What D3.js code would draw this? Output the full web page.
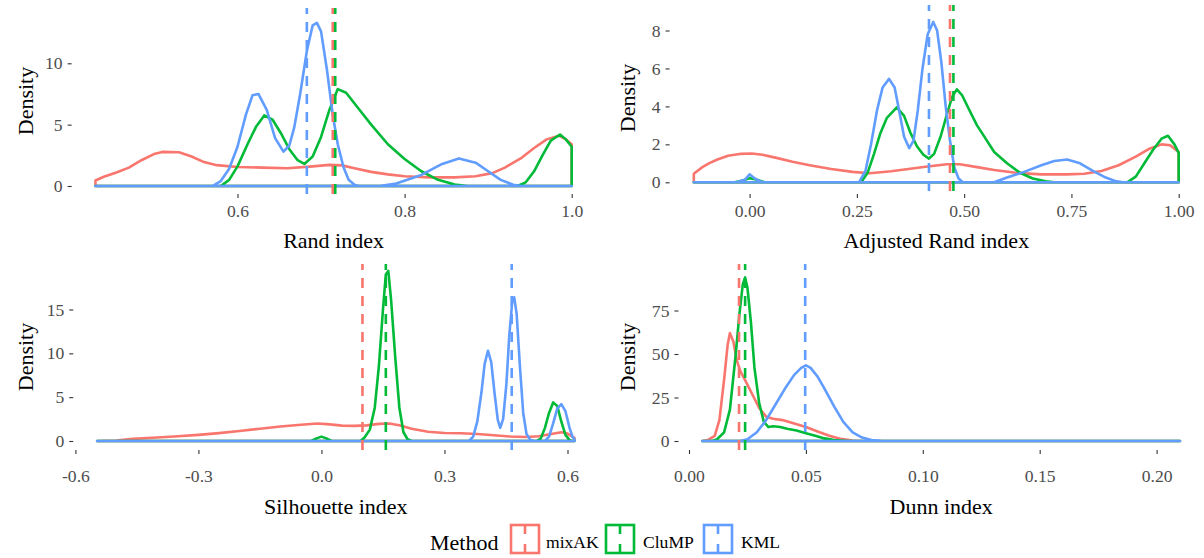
<!DOCTYPE html>
<html><head><meta charset="utf-8">
<script src="https://cdn.jsdelivr.net/npm/d3@7"></script>
<style>
body{margin:0;background:#fff}
svg{display:block}
text{font-family:"Liberation Serif","Times New Roman",serif}
</style>
</head><body>
<svg id="chart" width="1204" height="558"></svg>
<script>
// ---------- data ----------
const methods = ["mixAK", "CluMP", "KML"];
const methodColors = ["#F8766D", "#00BA38", "#619CFF"];

// Rand index
const randRange = [0.43, 1.0];
const randXTicks = [0.6, 0.8, 1.0];
const randYTicks = [0, 5, 10];
const randMixAK = [[0.43,0.45],[0.44,0.75],[0.455,1.1],[0.47,1.5],[0.485,2.1],[0.5,2.6],[0.51,2.78],[0.53,2.75],[0.545,2.4],[0.56,1.95],[0.575,1.7],[0.6,1.55],[0.63,1.5],[0.66,1.45],[0.69,1.6],[0.71,1.72],[0.725,1.68],[0.74,1.45],[0.76,1.15],[0.78,0.95],[0.8,0.8],[0.83,0.7],[0.86,0.7],[0.885,0.8],[0.905,1.05],[0.92,1.5],[0.94,2.3],[0.955,3.1],[0.97,3.8],[0.985,4.1],[0.993,3.8],[1.0,3.4]];
const randCluMP = [[0.43,0],[0.58,0],[0.59,0.5],[0.6,1.6],[0.612,3.4],[0.622,4.8],[0.632,5.75],[0.642,5.4],[0.652,4.3],[0.662,3.0],[0.672,2.1],[0.68,1.8],[0.69,2.4],[0.7,4.0],[0.71,6.2],[0.72,7.9],[0.73,7.6],[0.745,6.3],[0.76,5.0],[0.78,3.4],[0.8,2.2],[0.82,1.2],[0.84,0.5],[0.86,0.12],[0.875,0],[0.935,0],[0.945,0.3],[0.955,1.2],[0.965,2.5],[0.975,3.7],[0.986,4.2],[0.993,3.8],[1.0,3.2]];
const randKML = [[0.43,0],[0.57,0],[0.58,0.4],[0.59,1.4],[0.6,3.2],[0.61,5.8],[0.618,7.4],[0.625,7.5],[0.635,6.2],[0.645,3.9],[0.655,2.8],[0.662,3.3],[0.668,4.8],[0.675,7.5],[0.683,11.0],[0.69,13.1],[0.695,13.3],[0.7,12.6],[0.707,9.5],[0.714,5.8],[0.72,3.4],[0.727,1.5],[0.733,0.5],[0.74,0.1],[0.745,0],[0.77,0],[0.79,0.2],[0.82,0.9],[0.845,1.8],[0.865,2.25],[0.885,1.9],[0.9,1.2],[0.915,0.5],[0.93,0.1],[0.94,0],[1.0,0]];
const randMeans = [0.714, 0.717, 0.683];

// Adjusted Rand index
const arRange = [-0.13, 1.0];
const arXTicks = [0.0, 0.25, 0.5, 0.75, 1.0];
const arYTicks = [0, 2, 4, 6, 8];
const arMixAK = [[-0.13,0.45],[-0.11,0.8],[-0.095,1.0],[-0.075,1.2],[-0.05,1.4],[-0.02,1.5],[0.005,1.52],[0.03,1.45],[0.06,1.3],[0.1,1.08],[0.14,0.9],[0.19,0.7],[0.24,0.55],[0.28,0.48],[0.33,0.58],[0.37,0.7],[0.41,0.82],[0.46,0.95],[0.49,0.95],[0.53,0.8],[0.57,0.65],[0.62,0.5],[0.68,0.42],[0.74,0.42],[0.78,0.45],[0.82,0.6],[0.86,0.9],[0.9,1.35],[0.93,1.75],[0.96,2.0],[0.98,1.95],[1.0,1.6]];
const arCluMP = [[-0.13,0],[-0.035,0],[-0.015,0.1],[0.0,0.22],[0.015,0.15],[0.035,0],[0.26,0],[0.275,0.5],[0.29,1.5],[0.305,2.6],[0.32,3.4],[0.343,3.95],[0.36,3.5],[0.375,2.6],[0.39,1.9],[0.405,1.45],[0.418,1.25],[0.43,1.5],[0.445,2.4],[0.46,3.6],[0.472,4.5],[0.483,4.9],[0.495,4.6],[0.51,3.9],[0.53,3.0],[0.55,2.3],[0.57,1.6],[0.6,1.0],[0.63,0.5],[0.66,0.2],[0.69,0.05],[0.71,0],[0.88,0],[0.9,0.3],[0.92,1.0],[0.94,1.7],[0.96,2.3],[0.975,2.45],[0.99,2.0],[1.0,1.55]];
const arKML = [[-0.13,0],[-0.03,0],[-0.01,0.15],[0.0,0.42],[0.012,0.2],[0.03,0],[0.255,0],[0.27,0.6],[0.283,2.0],[0.297,3.8],[0.31,5.0],[0.325,5.45],[0.338,5.0],[0.35,3.6],[0.36,2.4],[0.372,1.8],[0.382,2.2],[0.392,3.8],[0.403,6.0],[0.415,7.8],[0.428,8.45],[0.437,8.0],[0.447,6.3],[0.457,4.0],[0.467,2.2],[0.477,0.8],[0.487,0.2],[0.497,0],[0.57,0],[0.6,0.25],[0.64,0.55],[0.68,0.9],[0.71,1.12],[0.74,1.2],[0.77,1.0],[0.8,0.6],[0.83,0.25],[0.855,0.05],[0.87,0],[1.0,0]];
const arMeans = [0.467, 0.475, 0.418];

// Silhouette index
const silRange = [-0.547, 0.617];
const silXTicks = [-0.6, -0.3, 0.0, 0.3, 0.6];
const silYTicks = [0, 5, 10, 15];
const silMixAK = [[-0.547,0],[-0.5,0.05],[-0.46,0.25],[-0.4,0.4],[-0.35,0.55],[-0.3,0.7],[-0.25,0.9],[-0.2,1.15],[-0.15,1.4],[-0.1,1.65],[-0.05,1.85],[-0.01,2.0],[0.02,1.9],[0.05,1.75],[0.08,1.72],[0.11,1.78],[0.14,1.95],[0.165,2.0],[0.19,1.8],[0.22,1.4],[0.26,1.05],[0.3,0.92],[0.34,0.88],[0.38,0.8],[0.42,0.65],[0.46,0.52],[0.5,0.45],[0.53,0.55],[0.56,0.8],[0.585,1.0],[0.6,0.85],[0.617,0.35]];
const silCluMP = [[-0.547,0],[-0.025,0],[-0.012,0.3],[0.0,0.5],[0.012,0.3],[0.025,0],[0.095,0],[0.105,0.4],[0.118,1.3],[0.13,3.8],[0.14,8.5],[0.15,15.0],[0.157,19.0],[0.163,19.4],[0.17,16.0],[0.18,9.5],[0.19,3.8],[0.2,1.0],[0.21,0.2],[0.22,0],[0.525,0],[0.535,0.3],[0.545,1.5],[0.555,3.2],[0.565,4.4],[0.575,4.0],[0.585,2.2],[0.595,0.7],[0.605,0.1],[0.612,0],[0.617,0]];
const silKML = [[-0.547,0],[0.36,0],[0.37,0.5],[0.38,2.2],[0.39,5.5],[0.398,8.8],[0.406,10.3],[0.414,9.0],[0.422,5.5],[0.43,2.4],[0.436,1.5],[0.443,2.5],[0.451,6.5],[0.458,12.0],[0.465,15.8],[0.47,16.4],[0.476,14.5],[0.484,8.5],[0.492,3.2],[0.5,0.8],[0.51,0.1],[0.52,0],[0.545,0],[0.555,0.5],[0.565,2.0],[0.575,3.7],[0.585,4.2],[0.595,3.4],[0.605,1.5],[0.612,0.5],[0.617,0.2]];
const silMeans = [0.100, 0.157, 0.464];

// Dunn index
const dunnRange = [0.0057, 0.21];
const dunnXTicks = [0.0, 0.05, 0.1, 0.15, 0.2];
const dunnYTicks = [0, 25, 50, 75];
const dunnMixAK = [[0.0057,0],[0.008,0.5],[0.011,3],[0.013,12],[0.015,35],[0.0165,55],[0.0175,62],[0.019,57],[0.0205,46],[0.022,40],[0.024,35],[0.027,27],[0.03,19],[0.033,14],[0.036,12.8],[0.04,12],[0.045,10],[0.05,8],[0.055,5.5],[0.06,3],[0.065,1.2],[0.07,0.3],[0.075,0],[0.21,0]];
const dunnCluMP = [[0.0057,0],[0.01,0],[0.012,1],[0.015,5],[0.0175,18],[0.02,50],[0.0215,72],[0.023,90],[0.024,94],[0.025,88],[0.0265,68],[0.028,42],[0.03,22],[0.032,11],[0.034,8],[0.036,8.5],[0.039,8],[0.042,7],[0.046,6],[0.05,4.5],[0.054,3],[0.058,1.5],[0.062,0.5],[0.068,0],[0.21,0]];
const dunnKML = [[0.0057,0],[0.022,0],[0.025,1],[0.029,5],[0.033,12],[0.037,21],[0.041,30],[0.045,38],[0.048,42],[0.05,43.5],[0.052,42],[0.055,37],[0.058,30],[0.062,20],[0.066,11],[0.07,5],[0.074,2],[0.078,0.6],[0.082,0.1],[0.085,0],[0.21,0]];
const dunnMeans = [0.0214, 0.024, 0.0497];

// ---------- layout ----------
const svg = d3.select("#chart");
const FONT_TITLE = 22, FONT_TICK = 17.6;
const TICK_LEN = 4;
const LW = 2.6;

const panels = [
  { title: "Rand index", range: randRange, xTicks: randXTicks, yTicks: randYTicks,
    curves: [randMixAK, randCluMP, randKML], means: randMeans, fmt: v => v.toFixed(1),
    xRef: [0.6, 1.0], xPx: [237.5, 571.7], yRef: [0, 10], yPx: [186, 63.3],
    top: 8, bottom: 194, axisAt: 194, pad: 7, titleY: 240, ytitleX: 25 },
  { title: "Adjusted Rand index", range: arRange, xTicks: arXTicks, yTicks: arYTicks,
    curves: [arMixAK, arCluMP, arKML], means: arMeans, fmt: v => v.toFixed(2),
    xRef: [0, 1.0], xPx: [749.6, 1178.7], yRef: [0, 8], yPx: [182.3, 30.5],
    top: 5, bottom: 191, axisAt: 194, pad: 7, titleY: 240, ytitleX: 627 },
  { title: "Silhouette index", range: silRange, xTicks: silXTicks, yTicks: silYTicks,
    curves: [silMixAK, silCluMP, silKML], means: silMeans, fmt: v => v.toFixed(1),
    xRef: [-0.6, 0.6], xPx: [75.4, 567.5], yRef: [0, 15], yPx: [441, 309.5],
    top: 264, bottom: 450, axisAt: 450, pad: 16, titleY: 506, ytitleX: 25 },
  { title: "Dunn index", range: dunnRange, xTicks: dunnXTicks, yTicks: dunnYTicks,
    curves: [dunnMixAK, dunnCluMP, dunnKML], means: dunnMeans, fmt: v => v.toFixed(2),
    xRef: [0, 0.2], xPx: [689, 1156.6], yRef: [0, 75], yPx: [441, 310.5],
    top: 264, bottom: 450, axisAt: 450, pad: 16, titleY: 506, ytitleX: 627 }
];

panels.forEach(p => {
  const x = d3.scaleLinear().domain(p.xRef).range(p.xPx);
  const y = d3.scaleLinear().domain(p.yRef).range(p.yPx);
  const w = p.range[1] - p.range[0];
  const left = x(p.range[0] - 0.05 * w);
  const right = x(p.range[1] + 0.05 * w);
  const g = svg.append("g");

  // density outlines (closed polygons like ggplot geom_density)
  const line = d3.line().x(d => x(d[0])).y(d => y(d[1]));
  p.curves.forEach((c, i) => {
    const pts = [[p.range[0], 0], ...c, [p.range[1], 0]];
    g.append("path")
      .attr("d", line(pts) + "Z")
      .attr("fill", "none")
      .attr("stroke", methodColors[i])
      .attr("stroke-width", LW)
      .attr("stroke-linejoin", "round");
  });

  // mean lines (dashed)
  p.means.forEach((m, i) => {
    g.append("line")
      .attr("x1", x(m)).attr("x2", x(m))
      .attr("y1", p.bottom).attr("y2", p.top)
      .attr("stroke", methodColors[i])
      .attr("stroke-width", LW)
      .attr("stroke-dasharray", "10,8");
  });

  // x axis
  const xa = g.append("g").attr("transform", `translate(0,${p.axisAt})`)
    .call(d3.axisBottom(x).tickValues(p.xTicks).tickFormat(p.fmt)
      .tickSize(TICK_LEN).tickPadding(p.pad));
  // y axis
  const ya = g.append("g").attr("transform", `translate(${left},0)`)
    .call(d3.axisLeft(y).tickValues(p.yTicks).tickFormat(d3.format("d"))
      .tickSize(TICK_LEN).tickPadding(5));
  [xa, ya].forEach(a => {
    a.select(".domain").remove();
    a.attr("font-size", null).attr("font-family", null);
    a.selectAll(".tick line").attr("stroke", "#333333").attr("stroke-width", 1.1);
    a.selectAll(".tick text").attr("fill", "#4D4D4D")
      .style("font-size", FONT_TICK + "px")
      .style("font-family", "'Liberation Serif', serif");
  });

  // axis titles
  g.append("text").attr("x", (left + right) / 2).attr("y", p.titleY)
    .attr("text-anchor", "middle").attr("dominant-baseline", "central")
    .style("font-size", FONT_TITLE + "px").attr("fill", "#000").text(p.title);
  g.append("text")
    .attr("transform", `translate(${p.ytitleX},${(p.top + p.bottom) / 2}) rotate(-90)`)
    .attr("text-anchor", "middle").attr("dominant-baseline", "central")
    .style("font-size", FONT_TITLE + "px").attr("fill", "#000").text("Density");
});

// ---------- legend ----------
const leg = svg.append("g");
leg.append("text").attr("x", 430).attr("y", 542).attr("dominant-baseline", "central")
  .style("font-size", FONT_TITLE + "px").attr("fill", "#000").text("Method");
const keyX = [511, 606, 704];
const labX = [546, 643, 741];
methods.forEach((m, i) => {
  leg.append("rect").attr("x", keyX[i]).attr("y", 525).attr("width", 28).attr("height", 28)
    .attr("fill", "#fff").attr("stroke", methodColors[i]).attr("stroke-width", LW);
  leg.append("line").attr("x1", keyX[i] + 14).attr("x2", keyX[i] + 14)
    .attr("y1", 525).attr("y2", 553)
    .attr("stroke", methodColors[i]).attr("stroke-width", LW)
    .attr("stroke-dasharray", "9,10");
  leg.append("text").attr("x", labX[i]).attr("y", 542).attr("dominant-baseline", "central")
    .style("font-size", FONT_TICK + "px").attr("fill", "#000").text(m);
});
</script>
</body></html>
